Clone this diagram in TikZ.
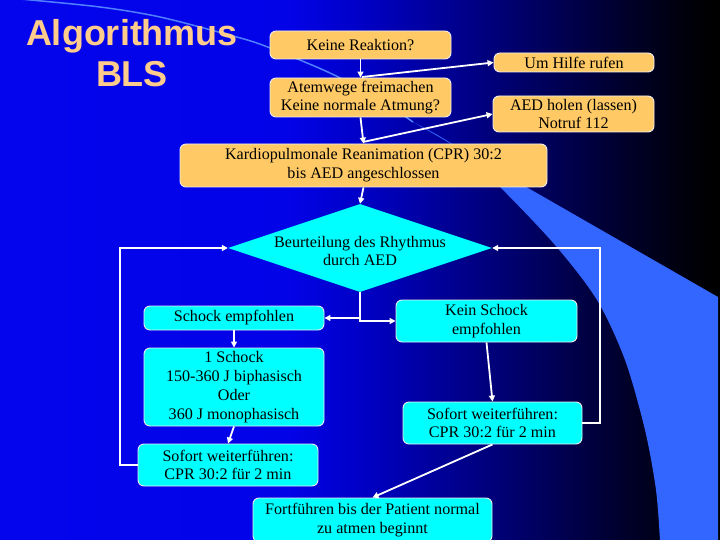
\documentclass[tikz,border=0pt]{standalone}
\usepackage{fontspec}
\setmainfont{Liberation Serif}
\newfontfamily\titlefont{Liberation Sans}
\usetikzlibrary{shapes.geometric,arrows.meta}
\definecolor{boxorange}{HTML}{FFCA66}
\definecolor{boxcyan}{HTML}{00FFFF}
\definecolor{titlecol}{HTML}{FFCC8C}
\definecolor{swooshcol}{HTML}{3366FF}
\definecolor{arclinecol}{HTML}{4F80FF}
\pgfdeclarehorizontalshading{bgshade}{100bp}{rgb(0bp)=(0.02,0.02,0.93); rgb(25bp)=(0.02,0.02,0.93); rgb(45bp)=(0.01,0.01,0.91); rgb(50bp)=(0,0,0.78); rgb(57bp)=(0,0,0.55); rgb(63bp)=(0,0,0.35); rgb(68bp)=(0,0,0.18); rgb(73.5bp)=(0,0,0.02); rgb(75bp)=(0,0,0); rgb(100bp)=(0,0,0)}
\tikzset{
  box/.style={rounded corners=6pt, draw=white!85!gray, line width=0.9pt, inner sep=0pt,
    align=center, font=\fontsize{16.1}{18.8}\selectfont, text=black},
  obox/.style={box, fill=boxorange},
  cbox/.style={box, fill=boxcyan},
  conn/.style={draw=white, line width=1.8pt, -{Triangle[length=6pt,width=6pt]}},
  titletext/.style={font=\titlefont\bfseries\fontsize{36}{41}\selectfont, text=titlecol, inner sep=0pt}
}
\begin{document}
\begin{tikzpicture}[x=1pt,y=-1pt]
\useasboundingbox (0,0) rectangle (720,540);
% background
\shade[shading=bgshade] (0,0) rectangle (720,540);
\draw[arclinecol, line width=1.5pt] plot[smooth] coordinates {(20,-1) (100,7) (160,17) (233,36) (265,46) (330,73) (380,100) (413,122)};
\fill[swooshcol] plot[smooth] coordinates {(413,122) (455,146) (500,187) (555,245) (597,300) (625,360) (645,430) (656,490) (660,541)} -- (718,541) -- (718,297) -- cycle;
% title
\node[titletext, anchor=base] (t1) at (132,46) {Algorithmus};
\node[titletext, anchor=base] (t2) at (132,87) {BLS};
% boxes
\node[obox, minimum width=181pt, minimum height=28pt] (kr) at (360.5,45) {Keine Reaktion?};
\node[obox, minimum width=160pt, minimum height=19pt] (hilfe) at (574,62.5) {Um Hilfe rufen};
\node[obox, minimum width=181pt, minimum height=39pt] (atem) at (360.5,97.5) {Atemwege freimachen\\Keine normale Atmung?};
\node[obox, minimum width=161pt, minimum height=36pt] (aed) at (573.5,114) {AED holen (lassen)\\Notruf 112};
\node[obox, minimum width=367pt, minimum height=43pt] (cpr) at (363.5,165.5) {Kardiopulmonale Reanimation (CPR) 30:2\\bis AED angeschlossen};
\node[diamond, fill=boxcyan, minimum width=264pt, minimum height=88pt, inner sep=0pt, aspect=3] (dia) at (360,248) {};
\node[align=center, inner sep=0pt, font=\fontsize{16.1}{18.8}\selectfont, text=black] (diatext) at (360,251) {Beurteilung des Rhythmus\\durch AED};
\node[cbox, minimum width=180pt, minimum height=24pt] (schock) at (234,318) {Schock empfohlen};
\node[cbox, minimum width=180pt, minimum height=78pt] (shock1) at (234,387) {1 Schock\\150-360 J biphasisch\\Oder\\360 J monophasisch};
\node[cbox, minimum width=180pt, minimum height=42pt] (sofl) at (228,465) {Sofort weiterführen:\\CPR 30:2 für 2 min};
\node[cbox, minimum width=181pt, minimum height=42pt] (kein) at (486.5,321) {Kein Schock\\empfohlen};
\node[cbox, minimum width=179pt, minimum height=42pt] (sofr) at (492.5,423) {Sofort weiterführen:\\CPR 30:2 für 2 min};
\node[cbox, minimum width=239pt, minimum height=44pt] (fort) at (372.5,520) {Fortführen bis der Patient normal\\zu atmen beginnt};
% connectors
\coordinate (j1) at (362,77);
\coordinate (j2) at (363,142);
\coordinate (j3) at (360,318);
\coordinate (lloop) at (120,248);
\coordinate (rloop) at (600,248);
\draw[conn] (kr.south) -- (atem.north);
\draw[conn] (j1) -- (hilfe.west);
\draw[conn] (atem.south) -- (cpr.north);
\draw[conn] (j2) -- (aed.west);
\draw[conn] (cpr.south) -- (dia.north);
\draw[conn] (dia.south) -- (j3) -- (schock.east);
\draw[conn] (j3) |- (kein.west);
\draw[conn] (schock.south) -- (shock1.north);
\draw[conn] (shock1.south) -- (sofl.north);
\draw[conn] (sofl.west) -| (lloop) -- (dia.west);
\draw[conn] (kein.south) -- (sofr.north);
\draw[conn] (sofr.east) -| (rloop) -- (dia.east);
\draw[conn] (sofr.south) -- (fort.north);
\end{tikzpicture}
\end{document}
